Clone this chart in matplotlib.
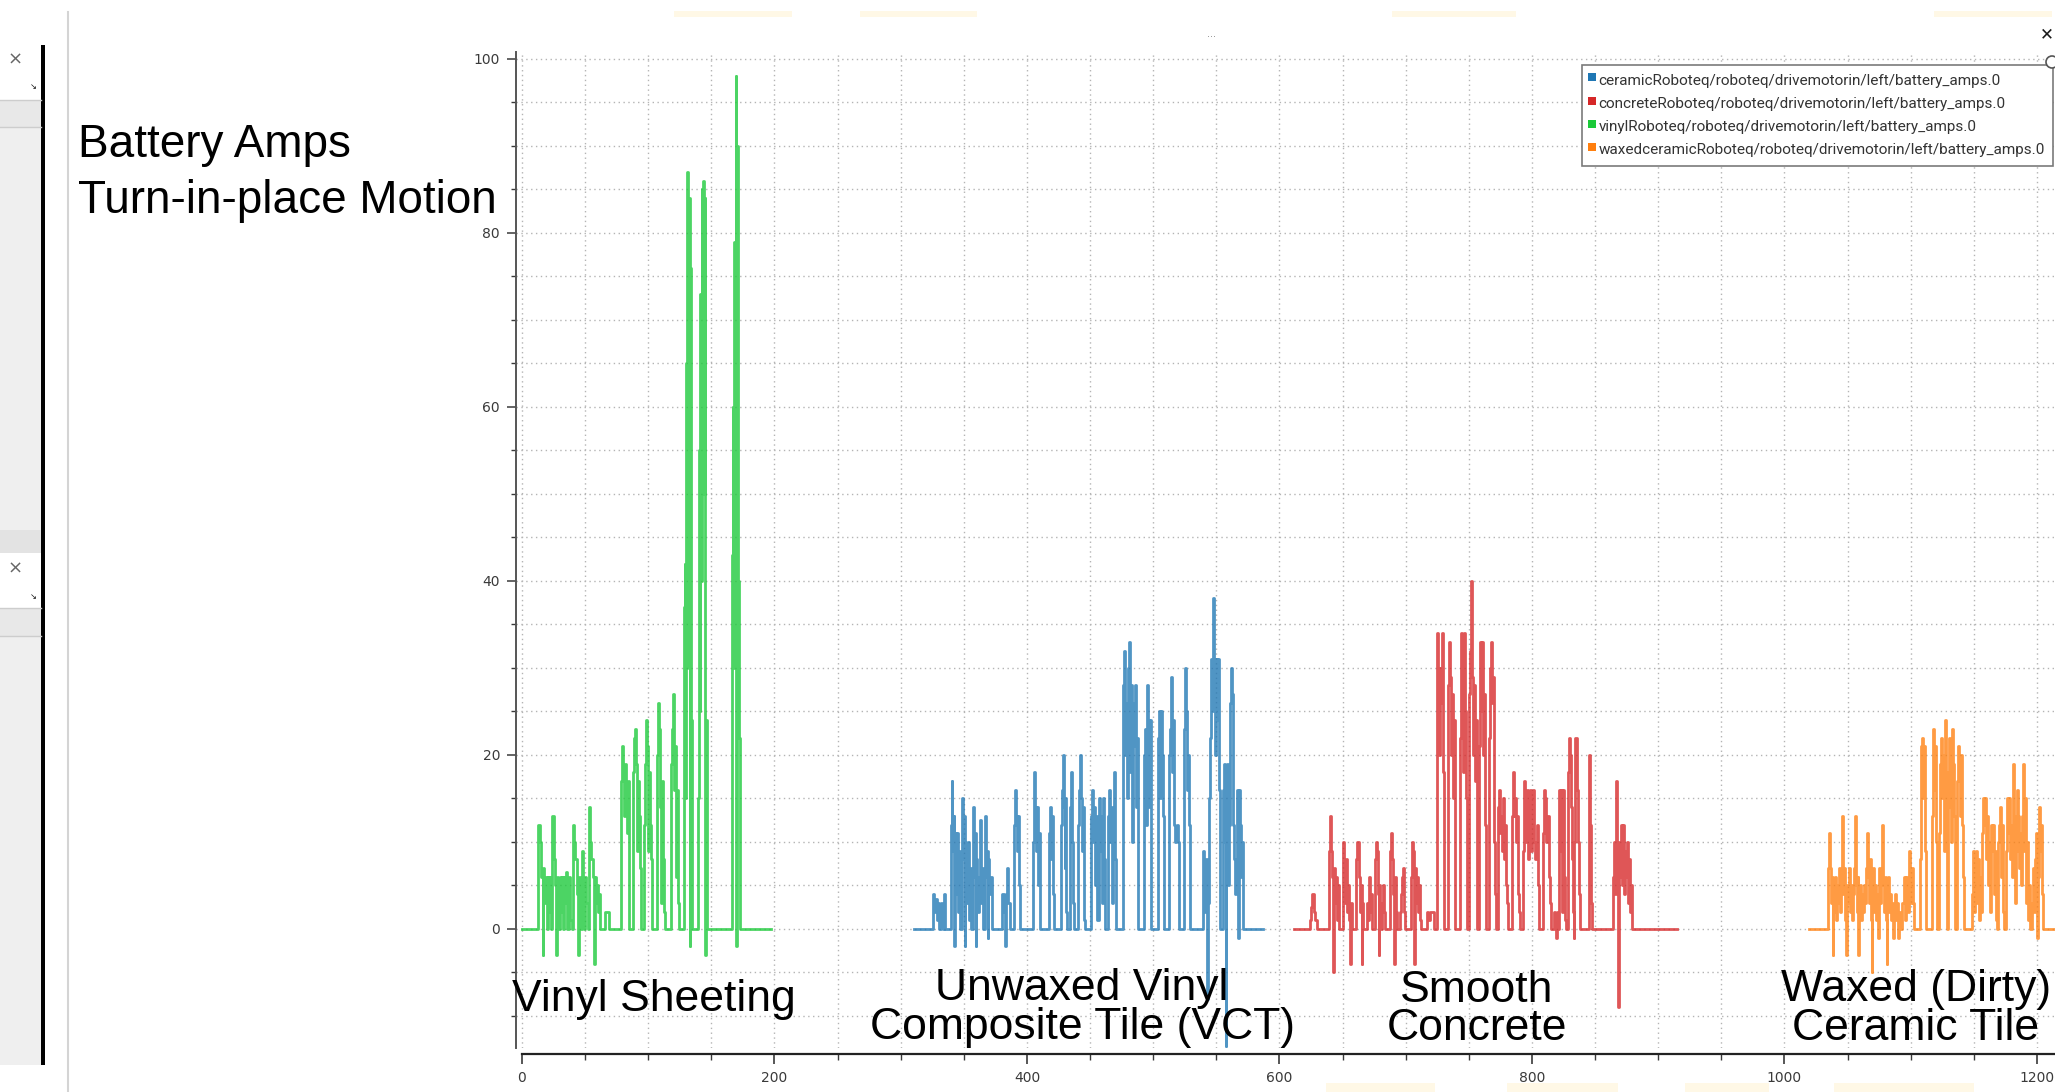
import matplotlib
matplotlib.use("Agg")
import matplotlib.pyplot as plt
from matplotlib.patches import Rectangle, Circle
from matplotlib.ticker import MultipleLocator

W, H = 2055, 1092

# battery amps (time, amps), drawn as steps
ceramic = [
    (310.5, 0),
    (325.5, 4), (326.5, 2), (327.5, 3.5), (328.5, 1), (329.5, 3), (330.5, 0), (331.5, 3), (332.5, 1), (333.5, 0), (334.5, 4), (335.3, 0),
    (339.5, 12), (340.3, 17), (341, 9), (341.8, 13), (342.5, -2), (343, 11), (343.8, 4), (344.6, 11), (345.4, 2), (346.2, 9), (347, 0),
    (348.5, 15), (349.2, 8), (350, 13), (350.8, -2), (351.3, 10), (352, 3), (353, 10), (353.8, 1), (354.6, 7), (355.5, 0),
    (357, 14), (357.8, 6), (358.6, 11), (359.5, -2), (360, 8), (360.8, 2), (361.6, 6), (362.4, 12.5), (363.2, 3), (364, 7), (364.8, 0),
    (366.5, 13), (367.2, 6), (368, 9), (368.8, -1), (369.3, 8), (370.2, 4), (371, 6), (372, 0),
    (380.5, 4), (381.5, 2), (382.4, -2), (383, 4), (384, 7), (385, 3), (386.5, 0),
    (389.5, 12), (390.3, 16), (391, 13), (391.8, 9), (392.6, 13), (393.4, 5), (394.3, 0),
    (404.5, 10), (405.3, 18), (406, 14), (406.8, 9), (407.6, 14), (408.4, 5), (409.2, 11), (410, 0),
    (417.5, 11), (418.3, 14), (419, 8), (419.8, 13), (420.6, 4), (421.4, 0),
    (426.8, 12), (427.5, 16), (428.2, 20), (429, 14), (429.8, 7), (430.5, 15), (431.3, 2), (432, 0),
    (433.8, 14), (434.6, 18), (435.4, 10), (436.2, 3), (437, 0),
    (440.5, 12), (441.3, 16), (442, 20), (442.8, 15), (443.6, 9), (444.4, 14), (445.2, 1), (446, 0),
    (450.8, 13), (451.6, 16), (452.4, 10), (453.2, 14), (454, 5), (454.8, 13), (455.6, 1),
    (457, 15), (457.8, 9), (458.6, 13), (459.4, 3), (460.2, 15), (461, 8), (461.8, 0),
    (464, 13), (464.8, 16), (465.6, 10), (466.4, 14), (467.2, 3), (468, 12), (468.8, 18), (469.6, 8), (470.4, 0),
    (476, 28), (476.8, 32), (477.6, 20), (478.4, 26), (479.2, 15), (480, 30), (480.8, 33), (481.6, 18), (482.4, 28),
    (483.2, 10), (484, 26), (484.8, 21), (485.6, 28), (486.4, 14), (487.2, 22), (488, 0),
    (492.8, 20), (493.6, 23), (494.4, 12), (495.2, 28), (496, 24), (496.8, 14), (497.6, 24), (498.4, 0),
    (503.5, 22), (504.3, 25), (505.1, 15), (505.9, 25), (506.7, 20), (507.5, 13), (508.3, 0),
    (512.5, 20), (513.3, 23), (514.1, 29), (514.9, 18), (515.7, 24), (516.5, 12), (517.3, 10), (518.2, 11), (519, 12), (519.8, 10), (520.6, 0),
    (524.5, 23), (525.3, 30), (526.1, 25), (526.9, 16), (527.7, 20), (528.5, 12), (529.3, 0),
    (539.5, 9), (540.3, 6), (541, 2), (541.8, 8), (542.6, -8), (543.2, 3), (544, 15), (544.8, 22), (545.6, 31), (546.4, 25),
    (547.2, 38), (548, 31), (548.8, 20), (549.6, 31), (550.4, 24), (551.2, 31), (552, 16), (552.8, 0),
    (555, 16), (555.8, 19), (556.6, 10), (557.3, -13.5), (557.8, 14), (558.6, 19), (559.4, 5), (560.2, 12), (561, 26), (561.8, 30),
    (562.6, 27), (563.4, 12), (564.2, 8), (565, 4), (565.8, 8), (566.6, 16), (567.4, -1), (568, 16), (568.8, 12), (569.6, 6), (570.4, 10), (571.2, 0),
    (586.7, 0),
]

concrete = [
    (611.5, 0),
    (624, 1), (625, 2.5), (626, 4), (627, 2), (628, 1), (629.5, 0),
    (639.5, 9), (640.3, 13), (641, 9), (641.8, 6), (642.4, -5), (642.9, 7), (643.6, 3), (644.4, 6), (645.2, 1), (646, 5), (647, 0),
    (650, 8), (650.6, 10), (651.4, 6), (652.2, 3), (653, 8), (653.8, 2), (654.6, 5), (655.4, 1), (656.2, -4), (656.7, 3), (657.5, 0),
    (661, 8), (661.8, 10), (662.6, 6), (663.4, 2), (664.2, 5), (665, -4), (665.5, 3), (666.3, 0),
    (669, 3), (669.8, 1), (670.6, 6), (671.4, 2), (672.2, 4), (673, 0),
    (675.5, 8), (676.2, 10), (677, 9), (677.8, 4), (678.6, -3), (679.1, 5), (680, 2), (680.8, 0),
    (681.5, 3), (682.3, 5), (683.1, 2), (683.9, 0),
    (687.5, 9), (688.3, 11), (689.1, 8), (689.9, 4), (690.7, -4), (691.2, 6), (692, 2), (692.8, 0),
    (695.5, 2), (696.3, 4), (697.1, 6), (697.9, 7), (698.7, 2), (699.5, 0),
    (704.5, 6), (705.3, 10), (706.1, 9), (706.9, -4), (707.4, 7), (708.2, 3), (709, 6), (709.8, 2), (710.6, 5), (711.4, 1), (712.2, 0),
    (716.5, 2), (718, 1), (719.5, 2), (722.5, 0),
    (724.5, 12), (725, 34), (725.8, 30), (726.6, 20), (727.4, 30), (728.2, 26), (729, 34), (729.7, 18), (730.3, 0),
    (733.7, 28), (734.5, 33), (735.3, 29), (736.1, 20), (736.9, 27), (737.7, 15), (738.5, 24), (739.3, 0),
    (742.9, 22), (743.6, 34), (744.4, 29), (745.2, 18), (746, 34), (746.8, 25), (747.5, 15), (748.2, 0),
    (750.3, 27), (751, 32), (751.6, 40), (752.2, 29), (753, 20), (753.8, 28), (754.6, 17), (755.4, 24), (756.1, 0),
    (758.3, 21), (759, 33), (759.8, 25), (760.6, 33), (761.4, 20), (762.2, 27), (763, 12), (763.6, 0),
    (766.2, 22), (767, 30), (767.8, 33), (768.6, 26), (769.4, 29), (770.2, 10), (771, 4), (771.5, 0),
    (773.4, 14), (774.2, 16), (775, 11), (775.8, 13), (776.6, 9), (777.4, 15), (778.2, 8), (779, 12), (779.8, 5), (780.6, 3), (781.3, 0),
    (783.9, 13), (784.7, 18), (785.5, 13), (786.3, 15), (787.1, 10), (787.9, 13), (788.7, 4), (789.5, 2), (790.5, 0),
    (793.2, 9), (794, 17), (794.8, 12), (795.6, 10), (796.4, 16), (797.2, 8), (798, 12), (798.8, 16), (799.6, 9), (800.4, 12),
    (801.2, 16), (802, 10), (802.8, 8), (803.6, 12), (804.4, 5), (805.2, 0),
    (809.1, 11), (809.9, 16), (810.7, 15), (811.5, 10), (812.3, 13), (813.1, 6), (813.9, 3), (814.7, 0),
    (817.3, 2), (818.1, 1), (819, -1), (819.5, 2), (820.3, 0), (821.3, 16), (822.1, 9), (822.9, 16), (823.7, 2), (824.5, 16), (825.3, 6), (826.1, 1), (827, 0),
    (828.4, 18), (829.2, 22), (830, 20), (830.8, 14), (831.6, 8), (832.4, 2), (833, -1), (833.5, 10), (834.3, 22), (835.1, 22),
    (835.9, 16), (836.7, 10), (837.5, 4), (838.3, 0),
    (844.8, 8), (845.4, 20), (846.2, 12), (847, 3), (847.7, 0),
    (864, 6), (864.8, 10), (865.6, 4), (866.4, 17), (867.2, 8), (868, -9), (868.6, 10), (869.4, 6), (870.2, 12), (871, 5),
    (871.8, 12), (872.6, 4), (873.4, 9), (874.2, 6), (875, 10), (875.8, 3), (876.6, 8), (877.4, 2), (878.2, 5), (879, 0),
    (915, 0),
]

vinyl = [
    (0, 0), (13, 12), (14, 10), (15, 6), (16.3, -3), (16.8, 7), (17.8, 3), (18.6, 6), (19.5, 0), (20.5, 6), (21.3, 2), (22, 6), (22.8, 0),
    (24, 13), (25, 8), (26, 5), (27.2, -3), (27.8, 6), (28.8, 0), (29.8, 6), (30.6, 2), (31.4, 6), (32.3, 0), (33.3, 6), (34.2, 3),
    (35, 6.5), (36, 0), (37, 6), (38, 1), (39.5, 0),
    (40.5, 12), (41.3, 10), (42.3, 8), (43.3, 4), (44.3, -3), (44.8, 6), (45.8, 2), (46.8, 0), (47.5, 9), (48.3, 5), (49, 0), (50, 6), (51, 3), (52, 0),
    (53.2, 14), (54, 10), (55, 8), (56, 6), (57.2, -4), (57.7, 6), (58.5, 3), (59.3, 5), (60.2, 2), (61, 4), (62, 0), (65.5, 2), (69, 0),
    (78.5, 17), (79.3, 21), (80, 18), (80.8, 13), (81.5, 19), (82.3, 16), (83, 11), (83.8, 17), (84.5, 0),
    (88, 18), (88.8, 22), (89.5, 23), (90.3, 19), (91, 9), (91.6, 17), (92.4, 13), (93.2, 7), (94, 0),
    (97, 12), (97.7, 19), (98.5, 24), (99.3, 21), (100, 9), (100.6, 18), (101.4, 12), (102.2, 8), (103.2, 0),
    (107, 20), (107.8, 26), (108.6, 23), (109.4, 14), (110, 3), (110.6, 17), (111.4, 8), (112.2, 2), (113, 0),
    (118, 19), (118.8, 23), (119.6, 27), (120.4, 16), (121.2, 21), (122, 6), (122.8, 16), (123.6, 3), (124.4, 0),
    (128.5, 37), (129, 42), (129.5, 15), (130, 65), (130.5, 30), (131, 87), (131.6, 60), (132.2, 84), (132.8, -2), (133.2, 76), (133.8, 24), (134.5, 0),
    (139.8, 15), (140.3, 55), (140.8, 25), (141.3, 73), (141.8, 40), (142.3, 85), (142.9, 60), (143.5, 86), (144.1, 50), (144.6, 84),
    (145.1, -3), (145.5, 24), (146.3, 0),
    (166, 43), (166.8, 60), (167.5, 30), (168.2, 79), (168.8, 50), (169.3, 98), (169.9, -2), (170.4, 90), (171, 40), (171.6, 22), (172.5, 0),
    (197, 0),
]

waxed = [
    (1019.7, 0),
    (1034.5, 7), (1035.3, 11), (1036, 7), (1036.8, 3), (1037.6, 6), (1038.2, -3), (1038.7, 5), (1039.5, 2), (1040.3, 6), (1041.1, 1),
    (1041.9, 5), (1042.7, 3), (1043.5, 7), (1044.3, 2), (1045.1, 6), (1045.9, 13), (1046.7, 4), (1047.5, 7), (1048.3, 1), (1048.8, -3),
    (1049.3, 5), (1050.1, 3), (1050.9, 7), (1051.7, 2), (1052.5, 5), (1053.3, 1), (1054.1, 4), (1054.9, 7), (1055.7, 13), (1056.5, 5),
    (1057.3, 2), (1058.1, 6), (1058.6, -3), (1059.1, 3), (1059.9, 5), (1060.7, 1), (1061.5, 4), (1062.3, 2), (1063.1, 5), (1063.9, 3),
    (1064.7, 7), (1065.5, 11), (1066.3, 6), (1067.1, 3), (1067.9, 8), (1068.7, 1), (1069.2, -5), (1069.7, 4), (1070.5, 7), (1071.3, 2),
    (1072.1, 5), (1072.9, 1), (1073.7, 4), (1074.4, -1), (1074.9, 7), (1075.7, 3), (1076.5, 6), (1077.3, 12), (1078.1, 5), (1078.9, 2),
    (1079.7, 6), (1080.5, 1), (1081, -4), (1081.5, 3), (1082.3, 6), (1083.1, 2), (1083.9, 4), (1084.7, 1), (1085.5, 3), (1086.3, -1),
    (1086.8, 2), (1087.6, 4), (1088.4, 1), (1089.2, 3), (1090, -1), (1090.6, 2), (1091.4, 0),
    (1093.5, 3), (1094.5, 6), (1095.5, 1), (1096.5, 6), (1097.5, 2), (1098.3, 9), (1099.2, 5), (1100, 3), (1100.8, 7), (1101.6, 3), (1102.4, 0),
    (1107.5, 8), (1108.3, 21), (1109, 22), (1109.8, 15), (1110.6, 21), (1111.4, 9), (1112, 0),
    (1116.5, 13), (1117.3, 21), (1118, 23), (1118.8, 16), (1119.6, 21), (1120.4, 10), (1121, 0),
    (1122.5, 11), (1123.3, 19), (1124.1, 22), (1124.9, 15), (1125.7, 20), (1126.5, 9), (1127.3, 24), (1128, 18), (1128.6, 0),
    (1129.8, 14), (1130.6, 22), (1131.4, 18), (1132.2, 10), (1133, 23), (1133.8, 19), (1134.6, 13), (1135.3, 0),
    (1137, 17), (1137.8, 21), (1138.6, 19), (1139.4, 13), (1140.2, 20), (1141, 12), (1141.8, 6), (1142.5, 0),
    (1148.3, 4), (1149, 9), (1149.8, 2), (1150.6, 7), (1151.4, 9), (1152.2, 3), (1153, 8), (1153.8, 1), (1154.6, 6), (1155.4, 2),
    (1156.2, 11), (1157, 15), (1157.8, 12), (1158.6, 15), (1159.4, 8), (1160.2, 13), (1161, 5), (1161.8, 10), (1162.6, 2), (1163.4, 12),
    (1164.2, 9), (1165, 12), (1165.8, 4), (1166.6, 9), (1167.4, 1), (1168.2, 0), (1169, 10), (1169.8, 12), (1170.6, 14), (1171.4, 6),
    (1172.2, 12), (1173, 2), (1173.8, 0), (1175.2, 9), (1176, 15), (1176.8, 11), (1177.6, 15), (1178.4, 8), (1179.2, 12), (1180, 6),
    (1180.8, 19), (1181.6, 13), (1182.4, 3), (1183.2, 9), (1184, 16), (1184.8, 13), (1185.6, 7), (1186.4, 11), (1187.2, 5), (1188, 13),
    (1188.8, 19), (1189.6, 9), (1190.4, 15), (1191.2, 3), (1192, 10), (1192.8, 1), (1193.6, 5), (1194.4, 0),
    (1196, 3), (1196.8, 7), (1197.6, 2), (1198.4, 8), (1199.2, 11), (1200, 4), (1200.3, -1), (1200.8, 6), (1201.6, 14), (1202.4, 9),
    (1203.2, 12), (1204, 4), (1204.8, 0),
    (1216, 0),
]

series_names = [
    "ceramicRoboteq/roboteq/drivemotorin/left/battery_amps.0",
    "concreteRoboteq/roboteq/drivemotorin/left/battery_amps.0",
    "vinylRoboteq/roboteq/drivemotorin/left/battery_amps.0",
    "waxedceramicRoboteq/roboteq/drivemotorin/left/battery_amps.0",
]
series_data = [ceramic, concrete, vinyl, waxed]
series_colors = ["#1f77b4", "#d62728", "#1ac938", "#ff7f0e"]

# floor labels: (text lines, x, first baseline) in screen pixels
floor_labels = [
    (["Vinyl Sheeting"], 512, 1011.5, "left"),
    (["Unwaxed Vinyl", "Composite Tile (VCT)"], 1082, 1000, "center"),
    (["Smooth", "Concrete"], 1477, 1001.5, "center"),
    (["Waxed (Dirty)", "Ceramic Tile"], 1916, 1001.5, "center"),
]

plt.rcParams['font.family'] = 'DejaVu Sans'

fig = plt.figure(figsize=(W / 100, H / 100), dpi=100, facecolor='white')

# ---- window chrome behind the plot (pixel coordinates)
bg = fig.add_axes([0, 0, 1, 1], zorder=-1)
bg.set_xlim(0, W)
bg.set_ylim(H, 0)
bg.axis('off')


def box(a, x0, y0, x1, y1, color, **kw):
    a.add_patch(Rectangle((x0, y0), x1 - x0, y1 - y0, facecolor=color, edgecolor='none', **kw))


box(bg, 0, 100, 41, 553, '#efefef')
box(bg, 0, 100, 41, 127, '#e8e8e8')
box(bg, 0, 530, 41, 553, '#e3e3e3')
box(bg, 0, 608, 41, 1065, '#efefef')
box(bg, 0, 608, 41, 636, '#e8e8e8')
for yy in (100, 127, 608, 636):
    bg.plot([0, 41], [yy, yy], color='#cdcdcd', lw=1)
box(bg, 40.5, 45, 44.5, 1065, 'black')
bg.plot([68, 68], [12, H], color='#d4d4d4', lw=1.5)
for yy in (60, 569):
    bg.text(15, yy, '×', fontsize=13, color='#666666', ha='center', va='center')
for yy in (87, 597):
    bg.text(33, yy, '↘', fontsize=6, color='#111111', ha='center', va='center')
for x0, x1 in [(674, 792), (860, 977), (1392, 1516), (1934, 2052)]:
    box(bg, x0, 11, x1, 17, '#fff6dc', alpha=0.7)
for x0, x1 in [(1326, 1435), (1507, 1618), (1685, 1769), (1834, 1974)]:
    box(bg, x0, 1083, x1, 1092, '#fff6dc', alpha=0.7)

# ---- the plot
ax = fig.add_axes([516 / W, 1 - 1048 / H, (W - 516) / W, (1048 - 52) / H])
ax.set_facecolor('none')
for data, color in zip(series_data, series_colors):
    t = [p[0] for p in data]
    amps = [p[1] for p in data]
    ax.step(t, amps, where='post', color=color, lw=2.0, alpha=0.78)

ax.set_xlim(-4.75, 1214.3)
ax.set_ylim(-13.68, 100.8)
ax.xaxis.set_major_locator(MultipleLocator(200))
ax.xaxis.set_minor_locator(MultipleLocator(50))
ax.yaxis.set_major_locator(MultipleLocator(20))
ax.yaxis.set_minor_locator(MultipleLocator(5))
ax.grid(which='both', color='#b4b4b4', linestyle=(0, (1, 2.5)), linewidth=1.0)
ax.set_axisbelow(True)
ax.spines['top'].set_visible(False)
ax.spines['right'].set_visible(False)
ax.spines['left'].set_color('#555555')
ax.spines['left'].set_linewidth(1.4)
ax.spines['bottom'].set_color('#222222')
ax.spines['bottom'].set_linewidth(1.6)
ax.spines['bottom'].set_position(('outward', 4.3))
ax.spines['bottom'].set_bounds(0, 1214.3)
ax.tick_params(axis='y', which='major', length=6.5, width=1.1, pad=5, labelsize=10, colors='#3a3a3a')
ax.tick_params(axis='y', which='minor', length=3.6, width=1.0, colors='#3a3a3a')
ax.tick_params(axis='x', which='major', length=7, width=1.2, pad=5.5, labelsize=10, colors='#3a3a3a')
ax.tick_params(axis='x', which='minor', length=4.3, width=1.0, colors='#3a3a3a')

# ---- overlay: annotations, legend, window buttons
ov = fig.add_axes([0, 0, 1, 1], zorder=10)
ov.set_xlim(0, W)
ov.set_ylim(H, 0)
ov.axis('off')

ov.text(78, 157, 'Battery Amps', fontsize=33, family='Liberation Sans', va='baseline')
ov.text(78, 213, 'Turn-in-place Motion', fontsize=33, family='Liberation Sans', va='baseline')
for lines, x, y0, ha in floor_labels:
    for i, line in enumerate(lines):
        ov.text(x, y0 + i * 38.5, line, fontsize=32, family='Liberation Sans',
                ha=ha, va='baseline', color='black')

renderer = fig.canvas.get_renderer()
probe = ov.text(0, 0, max(series_names, key=len), fontsize=10, family='Roboto')
fs = 10 * 445 / probe.get_window_extent(renderer).width
probe.remove()

ov.add_patch(Rectangle((1582, 64.5), 471, 101.5, facecolor='white', edgecolor='#7a7a7a', lw=1.2))
for i, (name, color) in enumerate(zip(series_names, series_colors)):
    yb = 84.5 + i * 23.3
    ov.add_patch(Rectangle((1588, yb - 11.2), 8, 8, facecolor=color, edgecolor='none'))
    ov.text(1598.5, yb, name, fontsize=fs, family='Roboto', color='#333333', va='baseline')

ov.add_patch(Circle((2052, 62), 6, facecolor='white', edgecolor='#555555', lw=1.2))
ov.text(2047, 34, '✕', fontsize=12, ha='center', va='center', color='#1a1a1a')
ov.text(1211, 37, '···', fontsize=7, ha='center', va='center', color='#888888')

fig.savefig('out.png', dpi=100)
